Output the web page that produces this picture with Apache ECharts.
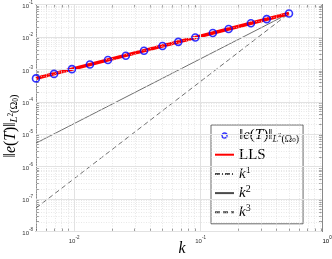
<!DOCTYPE html>
<html><head><meta charset="utf-8">
<script src="https://cdn.jsdelivr.net/npm/echarts@6/dist/echarts.min.js"></script>
<style>html,body{margin:0;padding:0;background:#fff}#c{width:332px;height:259px}</style>
</head><body><div id="c"></div>
<script>
// ---- data ----
const kValues = [0.005, 0.006944, 0.009615, 0.013333, 0.018519, 0.025641, 0.035714, 0.05, 0.066667, 0.090909, 0.125, 0.166667, 0.25, 0.333333, 0.5];
const errValues = [5.27e-4, 7.24e-4, 1.016e-3, 1.413e-3, 1.94e-3, 2.63e-3, 3.75e-3, 5.25e-3, 7.05e-3, 9.64e-3, 1.315e-2, 1.75e-2, 2.65e-2, 3.53e-2, 5.30e-2];
const llsK = [0.005, 0.5];
const llsValues = [5.27e-4, 5.30e-2];
const refK = [0.005, 0.5];
const refK1 = [5.3e-4, 5.3e-2];
const refK2 = [5.3e-6, 5.3e-2];
const refK3 = [5.3e-8, 5.3e-2];
const xRange = [0.005, 0.912];
const yRange = [1e-8, 1e-1];
const xTickExps = [-2, -1];
const xTickExpsOutside = [0];
const yTickExps = [-8, -7, -6, -5, -4, -3, -2, -1];
const legendNames = ['err', 'LLS', 'k1', 'k2', 'k3'];

const L = Math.log10;
const xMin = L(xRange[0]), xMax = L(xRange[1]);
const yMin = L(yRange[0]), yMax = L(yRange[1]);

const majX = [], minX = [], majY = [], minY = [];
for (let d = -3; d <= 0; d++) for (let m = 1; m <= 9; m++) {
  const v = L(m * Math.pow(10, d));
  if (v >= xMin - 1e-9 && v <= xMax + 1e-9) (m === 1 ? majX : minX).push(v);
}
for (let d = -8; d <= -1; d++) for (let m = 1; m <= 9; m++) {
  const v = L(m * Math.pow(10, d));
  if (v >= yMin - 1e-9 && v <= yMax + 1e-9) (m === 1 ? majY : minY).push(v);
}
const allX = majX.concat(minX), allY = majY.concat(minY);

const pts = (xs, ys) => xs.map((x, i) => [L(x), L(ys[i])]);

const SERIF = "'Liberation Serif', 'DejaVu Serif', serif";
function mathRich(s) {
  return {
    n: {fontFamily: SERIF, fontSize: 15*s, lineHeight: 17*s, color: '#000'},
    i: {fontFamily: SERIF, fontStyle: 'italic', fontSize: 15*s, lineHeight: 17*s, color: '#000'},
    si: {fontFamily: SERIF, fontStyle: 'italic', fontSize: 10*s, lineHeight: 10*s, verticalAlign: 'bottom', color: '#000'},
    ss: {fontFamily: SERIF, fontSize: 10*s, lineHeight: 10*s, verticalAlign: 'bottom', color: '#000'},
    sp: {fontFamily: SERIF, fontSize: 7*s, lineHeight: 7*s, verticalAlign: 'middle', color: '#000'},
    sb: {fontFamily: SERIF, fontSize: 7*s, lineHeight: 7*s, verticalAlign: 'bottom', color: '#000'},
    up: {fontFamily: SERIF, fontSize: 10*s, lineHeight: 10*s, verticalAlign: 'top', color: '#000'}
  };
}
const errLabel = '{n|‖}{i|e}{n|(}{i|T}{n|)‖}{si|L}{sp|2}{ss|(Ω}{sb|0}{ss|)}';
const legendText = {
  err: errLabel,
  LLS: '{n|LLS}',
  k1: '{i|k}{up|1}',
  k2: '{i|k}{up|2}',
  k3: '{i|k}{up|3}'
};

const tickRich = {
  b: {fontFamily: 'Liberation Sans', fontSize: 6, lineHeight: 9, verticalAlign: 'bottom', color: '#333'},
  e: {fontFamily: 'Liberation Sans', fontSize: 4.5, lineHeight: 5, verticalAlign: 'top', color: '#333'}
};
const fmtPow = v => '{b|10}{e|' + Math.round(v) + '}';

const AX = '#555';
const gridLines = [];
minX.forEach(v => gridLines.push({xAxis: v, lineStyle: {color: '#d9d9d9', width: 0.6, type: [1, 1.5]}}));
minY.forEach(v => gridLines.push({yAxis: v, lineStyle: {color: '#d9d9d9', width: 0.6, type: [1, 1.5]}}));
majX.forEach(v => gridLines.push({xAxis: v, lineStyle: {color: '#e2e2e2', width: 1, type: 'solid'}}));
majY.forEach(v => gridLines.push({yAxis: v, lineStyle: {color: '#e2e2e2', width: 1, type: 'solid'}}));

function xAx(pos, labels) {
  return {
    type: 'value', position: pos, min: xMin, max: xMax,
    axisLine: {show: true, onZero: false, lineStyle: {color: AX, width: 0.7}},
    axisTick: {show: true, inside: true, length: 3, customValues: allX, lineStyle: {color: AX, width: 0.6}},
    axisLabel: labels ? {show: true, customValues: xTickExps, formatter: fmtPow, rich: tickRich, margin: 4} : {show: false},
    splitLine: {show: false}
  };
}
function yAx(pos, labels) {
  return {
    type: 'value', position: pos, min: yMin, max: yMax,
    axisLine: {show: true, onZero: false, lineStyle: {color: AX, width: 0.7}},
    axisTick: {show: true, inside: true, length: 3, customValues: allY, lineStyle: {color: AX, width: 0.6}},
    axisLabel: labels ? {show: true, customValues: yTickExps, formatter: fmtPow, rich: tickRich, margin: 3} : {show: false},
    splitLine: {show: false}
  };
}

const GRAY = '#4a4a4a';
const hideSym = {opacity: 0};
const chart = echarts.init(document.getElementById('c'), null, {renderer: 'canvas'});
chart.setOption({
  animation: false,
  backgroundColor: '#fff',
  grid: {left: 36, right: 10, top: 4.3, bottom: 27.5, containLabel: false},
  xAxis: [xAx('bottom', true), xAx('top', false)],
  yAxis: [yAx('left', true), yAx('right', false)],
  legend: {
    orient: 'vertical', left: 211, top: 125,
    itemWidth: 19, itemHeight: 5, itemGap: 3.2,
    padding: [3, 4, 4, 3],
    backgroundColor: '#fff', borderColor: '#444', borderWidth: 0.8,
    selectedMode: false,
    data: [
      {name: 'err', icon: 'circle', itemStyle: {color: 'rgba(0,0,0,0)', borderColor: '#0000ff', borderWidth: 1.4, borderType: 'solid'}},
      {name: 'LLS', itemStyle: hideSym},
      {name: 'k1', itemStyle: hideSym},
      {name: 'k2', itemStyle: hideSym},
      {name: 'k3', itemStyle: hideSym}
    ],
    formatter: name => legendText[name],
    textStyle: {rich: mathRich(1)}
  },
  series: [
    {
      name: '_grid', type: 'line', data: [], silent: true, z: 0,
      markLine: {silent: true, symbol: ['none', 'none'], label: {show: false}, animation: false, data: gridLines}
    },
    {
      name: 'k1', type: 'line', data: pts(refK, refK1), symbol: 'none', z: 2,
      lineStyle: {color: GRAY, width: 0.8, type: [5, 2, 1, 2]}, itemStyle: {color: GRAY}
    },
    {
      name: 'LLS', type: 'line', data: pts(llsK, llsValues), symbol: 'none', z: 3,
      lineStyle: {color: '#ff0000', width: 3.6}, itemStyle: {color: '#ff0000'}
    },
    {
      name: 'err', type: 'scatter', data: pts(kValues, errValues), symbol: 'circle', symbolSize: 7, z: 5,
      itemStyle: {color: 'rgba(0,0,0,0)', borderColor: '#0000ff', borderWidth: 1.6}
    },
    {
      name: 'k2', type: 'line', data: pts(refK, refK2), symbol: 'none', z: 2,
      lineStyle: {color: GRAY, width: 0.8, type: 'solid'}, itemStyle: {color: GRAY}
    },
    {
      name: 'k3', type: 'line', data: pts(refK, refK3), symbol: 'none', z: 2,
      lineStyle: {color: GRAY, width: 0.8, type: [5, 3]}, itemStyle: {color: GRAY}
    }
  ]
});

const bottomY = chart.convertToPixel({yAxisIndex: 0}, yMin);
chart.setOption({
  graphic: [
    {
      id: 'ylab', type: 'text', x: 11, y: 126, rotation: Math.PI / 2,
      style: {text: errLabel, rich: mathRich(1.05), align: 'center', verticalAlign: 'middle'}
    },
    {
      id: 'xlab', type: 'text', x: 182, y: 249,
      style: {text: '{i|k}', rich: mathRich(1.05), align: 'center', verticalAlign: 'middle'}
    }
  ].concat(xTickExpsOutside.map((e, j) => ({
    id: 'xout' + j, type: 'text',
    x: chart.convertToPixel({xAxisIndex: 0}, e), y: bottomY + 4,
    style: {text: fmtPow(e), rich: tickRich, align: 'center', verticalAlign: 'top'}
  })))
});
</script>
</body></html>
